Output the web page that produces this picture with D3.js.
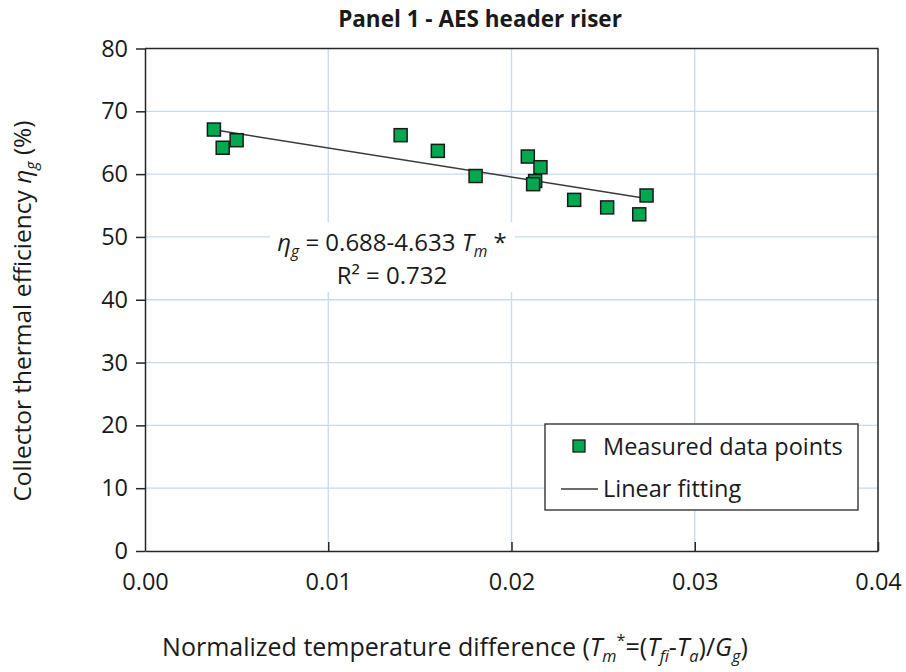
<!DOCTYPE html>
<html>
<head>
<meta charset="utf-8">
<script src="https://cdn.jsdelivr.net/npm/d3@7"></script>
<style>
  body { margin: 0; background: #fff; }
  svg text { font-family: "Open Sans", sans-serif; fill: #1a1a1a; }
</style>
</head>
<body>
<svg id="chart" width="906" height="672"></svg>
<script>
// measured points
var tmStar = [0.00376, 0.00424, 0.0050, 0.01395, 0.01598, 0.01804, 0.02089, 0.02158, 0.02129, 0.02118, 0.02342, 0.02522, 0.02697, 0.02737];
var efficiency = [67.1, 64.2, 65.4, 66.2, 63.7, 59.7, 62.8, 61.1, 58.9, 58.4, 55.9, 54.7, 53.6, 56.6];
// fitted line coefficients (in %)
var fitIntercept = 68.8, fitSlope = -463.3;
var xTicks = [0, 0.01, 0.02, 0.03, 0.04];
var yTicks = [0, 10, 20, 30, 40, 50, 60, 70, 80];

var margin = {top: 48.5, right: 28, bottom: 121, left: 145};
var width = 906 - margin.left - margin.right,
    height = 672 - margin.top - margin.bottom;

var svg = d3.select("#chart");
var g = svg.append("g").attr("transform", "translate(" + margin.left + "," + margin.top + ")");

var x = d3.scaleLinear().domain([0, 0.04]).range([0, width]);
var y = d3.scaleLinear().domain([0, 80]).range([height, 0]);

var gridColor = "#c6daf0";

// gridlines
g.append("g").selectAll("line")
  .data(yTicks.filter(function(d) { return d > 0 && d < 80; }))
  .enter().append("line")
    .attr("x1", 0).attr("x2", width)
    .attr("y1", function(d) { return y(d); }).attr("y2", function(d) { return y(d); })
    .attr("stroke", gridColor).attr("stroke-width", 1.3);
g.append("g").selectAll("line")
  .data(xTicks.filter(function(d) { return d > 0 && d < 0.04; }))
  .enter().append("line")
    .attr("y1", 0).attr("y2", height)
    .attr("x1", function(d) { return x(d); }).attr("x2", function(d) { return x(d); })
    .attr("stroke", gridColor).attr("stroke-width", 1.3);

// top and right frame
g.append("path")
  .attr("d", "M0,0H" + width + "V" + height)
  .attr("fill", "none").attr("stroke", "#262626").attr("stroke-width", 1.5);

// axes
var xAxis = g.append("g")
  .attr("transform", "translate(0," + height + ")")
  .call(d3.axisBottom(x).tickValues(xTicks).tickFormat(d3.format(".2f")).tickSizeInner(-9).tickSizeOuter(0).tickPadding(22));
var yAxis = g.append("g")
  .call(d3.axisLeft(y).tickValues(yTicks).tickSizeInner(9).tickSizeOuter(0).tickPadding(8));
[xAxis, yAxis].forEach(function(a) {
  a.select(".domain").attr("stroke", "#262626").attr("stroke-width", 1.5);
  a.selectAll(".tick line").attr("stroke", "#262626").attr("stroke-width", 1.5);
  a.selectAll(".tick text").attr("font-family", "Open Sans, sans-serif").attr("font-size", 23.5).attr("fill", "#1a1a1a");
});
xAxis.selectAll(".tick").filter(function(d) { return d === 0; }).select("line").remove();

// text with italic / sub / superscript runs
function rich(sel, parts, size) {
  var off = 0;
  parts.forEach(function(p) {
    var shift = p.s === "sub" ? size * 0.25 : (p.s === "sup" ? -size * 0.4 : 0);
    var t = sel.append("tspan").text(p.t);
    if (p.i) t.attr("font-style", "italic");
    if (p.s) t.attr("font-size", size * 0.65);
    if (off + shift !== 0) t.attr("dy", off + shift);
    off = -shift;
  });
}

// annotation box with equation
var ann = g.append("g");
ann.append("rect")
  .attr("x", 270 - margin.left).attr("y", 222 - margin.top)
  .attr("width", 245).attr("height", 70).attr("fill", "#fff");

var eq = ann.append("text")
  .attr("x", 392 - margin.left).attr("y", 251 - margin.top)
  .attr("text-anchor", "middle").attr("font-size", 24);
rich(eq, [
  {t: "\u03b7", i: true}, {t: "g", i: true, s: "sub"},
  {t: " = 0.688-4.633 "}, {t: "T", i: true}, {t: "m", i: true, s: "sub"}, {t: " *"}
], 24);
ann.append("text")
  .attr("x", 392 - margin.left).attr("y", 284 - margin.top)
  .attr("text-anchor", "middle").attr("font-size", 24)
  .text("R\u00b2 = 0.732");

// fitted line
var xMin = d3.min(tmStar), xMax = d3.max(tmStar);
g.append("line")
  .attr("x1", x(xMin)).attr("y1", y(fitIntercept + fitSlope * xMin))
  .attr("x2", x(xMax)).attr("y2", y(fitIntercept + fitSlope * xMax))
  .attr("stroke", "#3a3a3a").attr("stroke-width", 1.5);

// points
var ms = 13;
g.append("g").selectAll("rect")
  .data(tmStar.map(function(d, i) { return {x: d, y: efficiency[i]}; }))
  .enter().append("rect")
    .attr("x", function(d) { return x(d.x) - ms / 2; })
    .attr("y", function(d) { return y(d.y) - ms / 2; })
    .attr("width", ms).attr("height", ms)
    .attr("fill", "#00a84f").attr("stroke", "#1a1a1a").attr("stroke-width", 1.5);

// title
svg.append("text")
  .attr("x", 480).attr("y", 27)
  .attr("text-anchor", "middle").attr("font-size", 22.5).attr("font-weight", "bold")
  .text("Panel 1 - AES header riser");

// x axis title
var xt = svg.append("text")
  .attr("x", 455).attr("y", 656)
  .attr("text-anchor", "middle").attr("font-size", 25);
rich(xt, [
  {t: "Normalized temperature difference ("},
  {t: "T", i: true}, {t: "m", i: true, s: "sub"}, {t: "*", s: "sup"},
  {t: "=("}, {t: "T", i: true}, {t: "fi", i: true, s: "sub"},
  {t: "-"}, {t: "T", i: true}, {t: "a", i: true, s: "sub"},
  {t: ")/"}, {t: "G", i: true}, {t: "g", i: true, s: "sub"}, {t: ")"}
], 25);

// y axis title
var yt = svg.append("text")
  .attr("transform", "translate(31,311) rotate(-90)")
  .attr("text-anchor", "middle").attr("font-size", 24.5);
rich(yt, [
  {t: "Collector thermal efficiency "},
  {t: "\u03b7", i: true}, {t: "g", i: true, s: "sub"}, {t: " (%)"}
], 24.5);

// legend
var lg = svg.append("g");
lg.append("rect")
  .attr("x", 545).attr("y", 424).attr("width", 313).attr("height", 86)
  .attr("fill", "#fff").attr("stroke", "#262626").attr("stroke-width", 1.3);
lg.append("rect")
  .attr("x", 573).attr("y", 440).attr("width", 12).attr("height", 12)
  .attr("fill", "#00a84f").attr("stroke", "#1a1a1a").attr("stroke-width", 1.3);
lg.append("text").attr("x", 603).attr("y", 455).attr("font-size", 23.5).text("Measured data points");
lg.append("line")
  .attr("x1", 561).attr("x2", 598).attr("y1", 489).attr("y2", 489)
  .attr("stroke", "#3a3a3a").attr("stroke-width", 1.5);
lg.append("text").attr("x", 603).attr("y", 497).attr("font-size", 23.5).text("Linear fitting");
</script>
</body>
</html>
